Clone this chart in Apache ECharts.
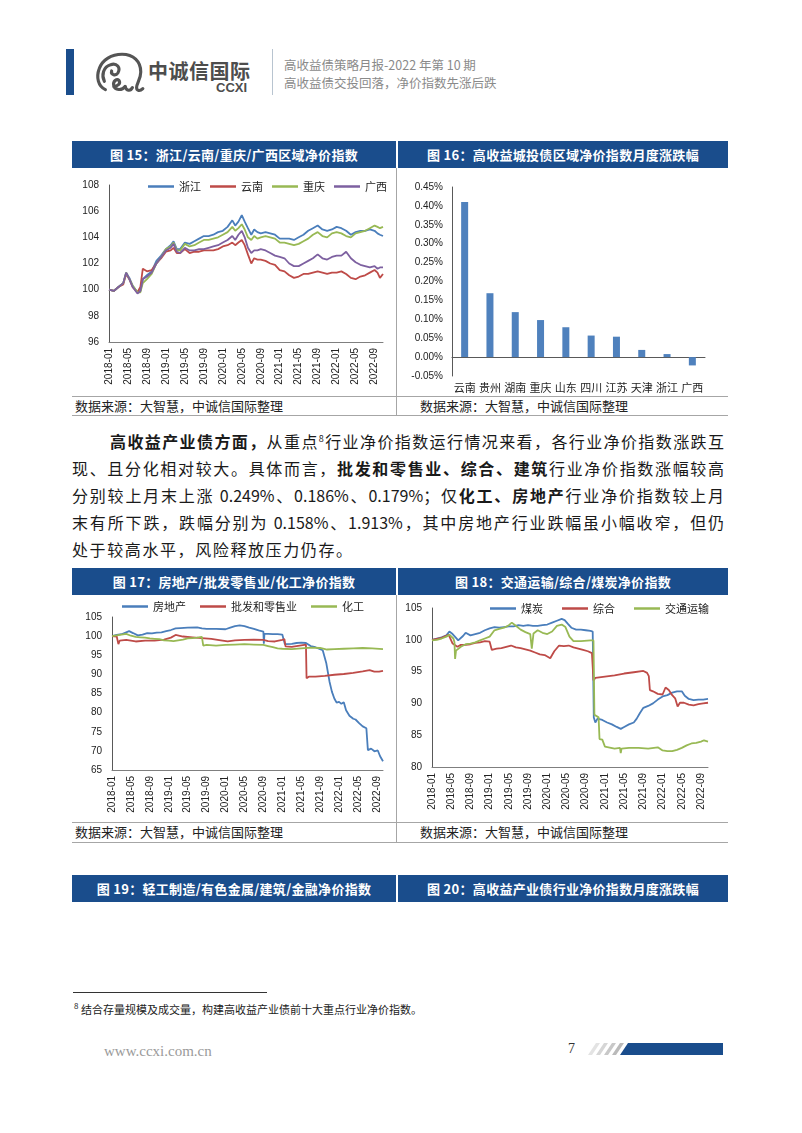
<!DOCTYPE html>
<html><head><meta charset="utf-8">
<script src="https://cdn.jsdelivr.net/npm/echarts@6/dist/echarts.min.js"></script>
<style>
html,body{margin:0;padding:0;background:#fff;}
body{width:802px;height:1133px;position:relative;overflow:hidden;font-family:'Noto Sans CJK SC',sans-serif;color:#1a1a1a;}
.abs{position:absolute;}
.hbar{position:absolute;background:#1a4d8c;color:#fff;font-weight:bold;font-size:13px;height:27px;line-height:27px;text-align:center;letter-spacing:0.3px;}
.src{position:absolute;font-size:13px;color:#222;line-height:18px;}
.hl{position:absolute;background:#a6a6a6;height:1px;left:72px;width:656px;}
.vl{position:absolute;background:#a6a6a6;width:1px;left:396px;}
.para{position:absolute;left:72px;width:652px;font-size:16px;line-height:27px;height:27px;text-align:justify;text-align-last:justify;color:#1a1a1a;}
.para b{font-weight:700;}
.chart{position:absolute;}
</style></head>
<body>
<!-- page header -->
<div class="abs" style="left:66px;top:49px;width:8px;height:46px;background:#1a4d8c"></div>
<svg class="abs" style="left:95px;top:52px" width="52" height="42" viewBox="0 0 50 40">
  <g fill="none" stroke="#555" stroke-width="3" stroke-linecap="round">
    <path d="M10 36 C3 33 1 24 4 16 C7 7 16 2 26 2 C37 2 44 9 44 19 C44 26 40 30 40 34 C40 37 43 38 46 35"/>
    <path d="M9 28 C6 22 8 14 15 12 C21 10 25 15 22 20 C20 23 15 22 16 18"/>
    <path d="M18 33 C22 33 25 30 23 27 C21 25 17 28 18 32 C19 37 26 37 29 33"/>
    <path d="M29 33 C30 37 34 38 36 34"/>
  </g>
</svg>
<div class="abs" style="left:148px;top:58px;font-size:20px;font-weight:bold;color:#4d4d4d;line-height:26px;letter-spacing:0.5px">中诚信国际</div>
<div class="abs" style="left:216px;top:80px;font-size:13px;font-weight:bold;color:#4d4d4d;line-height:16px;font-family:'Liberation Sans',sans-serif">CCXI</div>
<div class="abs" style="left:272px;top:49px;width:1px;height:46px;background:#b8c4d0"></div>
<div class="abs" style="left:284px;top:56px;font-size:12.5px;color:#8a8a8a;line-height:18px">高收益债策略月报-2022 年第 10 期</div>
<div class="abs" style="left:284px;top:74px;font-size:12.5px;color:#8a8a8a;line-height:18px">高收益债交投回落，净价指数先涨后跌</div>

<!-- figure 15/16 -->
<div class="hbar" style="left:72px;top:141px;width:324px">图 15：浙江/云南/重庆/广西区域净价指数</div>
<div class="hbar" style="left:398px;top:141px;width:330px">图 16：高收益城投债区域净价指数月度涨跌幅</div>
<div class="vl" style="top:168px;height:247px"></div>
<div class="hl" style="top:396px"></div>
<div class="hl" style="top:415px"></div>
<div id="c15" class="chart" style="left:72px;top:168px;width:324px;height:227px"></div>
<div id="c16" class="chart" style="left:397px;top:168px;width:331px;height:227px"></div>
<div class="src" style="left:75px;top:397px">数据来源：大智慧，中诚信国际整理</div>
<div class="src" style="left:420px;top:397px">数据来源：大智慧，中诚信国际整理</div>

<!-- paragraph -->
<div class="para" style="top:428px;left:110px;width:614px"><b>高收益产业债方面，</b>从重点<sup style="font-size:9px;line-height:0">8</sup>行业净价指数运行情况来看，各行业净价指数涨跌互</div>
<div class="para" style="top:455px">现、且分化相对较大。具体而言，<b>批发和零售业、综合、建筑</b>行业净价指数涨幅较高</div>
<div class="para" style="top:482px">分别较上月末上涨 0.249%、0.186%、0.179%；仅<b>化工、房地产</b>行业净价指数较上月</div>
<div class="para" style="top:509px">末有所下跌，跌幅分别为 0.158%、1.913%，其中房地产行业跌幅虽小幅收窄，但仍</div>
<div class="para" style="top:536px;text-align:left;text-align-last:left;letter-spacing:1.6px">处于较高水平，风险释放压力仍存。</div>

<!-- figure 17/18 -->
<div class="hbar" style="left:72px;top:568px;width:324px">图 17：房地产/批发零售业/化工净价指数</div>
<div class="hbar" style="left:398px;top:568px;width:330px">图 18：交通运输/综合/煤炭净价指数</div>
<div class="vl" style="top:595px;height:247px"></div>
<div class="hl" style="top:822px"></div>
<div class="hl" style="top:842px"></div>
<div id="c17" class="chart" style="left:72px;top:595px;width:324px;height:227px"></div>
<div id="c18" class="chart" style="left:397px;top:595px;width:331px;height:227px"></div>
<div class="src" style="left:75px;top:823px">数据来源：大智慧，中诚信国际整理</div>
<div class="src" style="left:420px;top:823px">数据来源：大智慧，中诚信国际整理</div>

<!-- figure 19/20 headers -->
<div class="hbar" style="left:72px;top:875px;width:324px">图 19：轻工制造/有色金属/建筑/金融净价指数</div>
<div class="hbar" style="left:398px;top:875px;width:330px">图 20：高收益产业债行业净价指数月度涨跌幅</div>

<!-- footnote & footer -->
<div class="abs" style="left:73px;top:992px;width:194px;height:1px;background:#333"></div>
<div class="abs" style="left:74px;top:1001px;font-size:11px;line-height:16px;color:#222"><sup style="font-size:8px;line-height:0">8</sup> 结合存量规模及成交量，构建高收益产业债前十大重点行业净价指数。</div>
<div class="abs" style="left:104px;top:1041px;font-size:15px;line-height:20px;color:#9a9a9a;font-family:'Liberation Serif',serif">www.ccxi.com.cn</div>
<div class="abs" style="left:568px;top:1040px;font-size:14px;line-height:18px;color:#333;font-family:'Liberation Serif',serif">7</div>
<svg class="abs" style="left:585px;top:1042px" width="140" height="14">
  <polygon points="3,13 11,1 15,1 7,13" fill="#e3e3e3"/>
  <polygon points="11,13 19,1 23,1 15,13" fill="#d6d6d6"/>
  <polygon points="19,13 27,1 31,1 23,13" fill="#c8c8c8"/>
  <polygon points="27,13 35,1 39,1 31,13" fill="#bababa"/>
  <polygon points="35,13 43,1 138,1 138,13" fill="#1a4d8c"/>
</svg>

<script>
// ---------- Data ----------
// Figure 15: regional net price index (dates shared by four series)
const dates15 = ['2018-01-01','2018-02-01','2018-03-01','2018-04-01','2018-04-20','2018-05-10','2018-06-01','2018-07-01','2018-07-20','2018-08-05',
 '2018-09-01','2018-10-01','2018-11-01','2018-12-01','2019-01-01','2019-02-01','2019-02-20','2019-03-10','2019-04-01','2019-05-01',
 '2019-06-01','2019-07-01','2019-08-01','2019-09-01','2019-10-01','2019-11-01','2019-12-01','2020-01-01','2020-02-01','2020-03-01',
 '2020-03-20','2020-04-10','2020-05-01','2020-05-20','2020-06-10','2020-07-01','2020-07-20','2020-08-10','2020-09-01','2020-10-01',
 '2020-11-01','2020-12-01','2021-01-01','2021-02-01','2021-03-01','2021-04-01','2021-05-01','2021-06-01','2021-07-01','2021-08-01',
 '2021-09-01','2021-10-01','2021-11-01','2021-12-01','2022-01-01','2022-02-01','2022-03-01','2022-04-01','2022-05-01','2022-06-01',
 '2022-07-01','2022-08-01','2022-09-01','2022-09-20','2022-10-05','2022-10-25'];
const zhejiang = [100.0,99.9,100.2,100.5,101.3,100.9,100.3,99.8,99.9,100.8,
 101.1,101.4,102.2,102.6,103.1,103.4,103.7,103.1,103.1,103.6,
 103.5,103.7,103.9,104.1,104.1,104.2,104.4,104.5,104.8,105.3,
 104.9,105.2,105.7,105.2,104.7,104.2,104.6,104.4,104.3,104.4,
 104.3,104.2,103.9,103.9,103.9,103.8,104.0,104.2,104.5,104.7,
 104.9,104.6,104.5,104.6,104.8,104.7,104.5,104.2,104.4,104.5,
 104.5,104.6,104.5,104.3,104.2,104.1];
const yunnan = [100.0,99.9,100.2,100.4,101.2,100.8,100.2,99.8,100.2,101.6,
 101.4,101.5,102.0,102.4,102.9,103.0,103.2,102.8,102.8,103.1,
 102.8,102.9,102.9,103.0,103.0,103.0,103.1,103.3,103.4,103.6,
 103.4,103.6,103.8,103.4,102.7,102.0,102.4,102.3,102.3,102.2,
 102.0,101.9,101.5,101.4,101.1,100.9,101.0,101.2,101.2,101.3,
 101.4,101.3,101.2,101.3,101.3,101.4,101.2,100.9,100.8,101.0,
 101.1,101.3,101.5,101.3,100.9,101.2];
const chongqing = [100.0,99.9,100.2,100.5,101.3,100.8,100.3,99.8,99.8,100.5,
 100.8,101.2,102.0,102.5,103.1,103.3,103.6,103.0,103.0,103.5,
 103.3,103.4,103.6,103.8,103.8,103.9,104.0,104.2,104.4,104.8,
 104.5,104.7,105.0,104.6,104.0,103.8,104.1,103.9,104.0,104.1,
 104.0,103.9,103.6,103.6,103.5,103.4,103.5,103.7,103.9,104.2,
 104.4,104.1,104.0,104.3,104.4,104.3,104.1,104.0,104.3,104.4,
 104.5,104.7,104.9,104.8,104.7,104.8];
const guangxi = [100.0,99.9,100.2,100.5,101.3,100.8,100.2,99.7,99.9,100.8,
 101.0,101.3,102.0,102.5,103.0,103.2,103.5,102.9,102.8,103.2,
 103.0,103.0,103.1,103.1,103.2,103.3,103.4,103.6,103.8,104.1,
 103.8,104.2,104.5,104.0,103.2,102.8,103.0,103.0,103.1,103.0,
 102.8,102.6,102.5,102.4,102.0,101.8,101.8,102.0,102.2,102.4,
 102.7,102.4,102.3,102.5,102.6,102.6,102.9,102.4,102.1,101.9,
 101.8,101.7,101.8,101.6,101.7,101.7];
const names15 = ['浙江','云南','重庆','广西'];
const yTicks15 = {min:96, max:108, step:2};

// Figure 16: monthly change (%)
const regions16 = ['云南','贵州','湖南','重庆','山东','四川','江苏','天津','浙江','广西'];
const change16 = [0.410,0.169,0.119,0.098,0.079,0.057,0.054,0.019,0.008,-0.022];
const yTicks16 = {min:-0.05, max:0.45, step:0.05};

// Figure 17: [date, index]
const realEstate = [['2018-01-01',100.0],['2018-02-01',100.3],['2018-03-01',100.5],['2018-04-01',101.0],['2018-04-20',101.3],['2018-05-15',100.8],['2018-06-15',100.2],['2018-07-15',100.4],['2018-08-15',100.8],['2018-09-15',100.7],['2018-10-15',100.9],['2018-11-15',101.0],['2018-12-15',101.3],['2019-01-15',101.6],['2019-02-15',102.0],['2019-03-15',102.1],['2019-05-01',102.2],['2019-07-01',102.3],['2019-08-01',102.0],['2019-09-01',101.9],['2019-11-01',101.9],['2020-01-01',101.8],['2020-02-01',102.2],['2020-03-01',102.6],['2020-04-01',102.8],['2020-05-01',102.6],['2020-06-01',102.2],['2020-07-01',101.9],['2020-08-01',101.5],['2020-09-01',101.2],['2020-09-04',98.0],['2020-09-08',100.6],['2020-10-01',100.6],['2020-11-01',100.5],['2020-12-01',100.5],['2021-01-01',100.4],['2021-01-12',100.3],['2021-01-18',97.9],['2021-03-01',98.0],['2021-04-01',98.2],['2021-05-01',98.3],['2021-06-01',98.2],['2021-07-01',97.4],['2021-08-01',97.1],['2021-09-01',96.6],['2021-09-18',96.3],['2021-10-10',93.0],['2021-11-01',88.0],['2021-11-16',85.5],['2021-12-01',83.7],['2021-12-16',82.6],['2022-01-01',82.8],['2022-01-16',82.3],['2022-02-01',82.7],['2022-02-16',80.6],['2022-03-07',79.2],['2022-04-01',78.4],['2022-04-16',78.2],['2022-05-10',77.2],['2022-06-01',76.4],['2022-06-25',75.9],['2022-07-04',70.2],['2022-07-25',70.6],['2022-08-16',69.9],['2022-09-07',70.1],['2022-09-22',68.6],['2022-10-10',67.3]];
const wholesaleRetail = [['2018-01-01',100.0],['2018-02-01',99.9],['2018-02-12',97.9],['2018-02-20',98.8],['2018-04-01',99.0],['2018-06-01',98.6],['2018-08-01',98.8],['2018-10-01',98.8],['2018-12-01',99.1],['2019-01-15',99.6],['2019-02-15',100.3],['2019-04-01',99.9],['2019-06-01',99.7],['2019-08-01',99.5],['2019-10-01',99.3],['2019-12-01',98.9],['2020-01-15',98.6],['2020-03-01',98.9],['2020-05-01',99.0],['2020-07-01',99.1],['2020-09-01',99.0],['2020-10-01',98.7],['2020-11-15',98.6],['2021-01-01',99.0],['2021-01-15',99.2],['2021-01-22',97.3],['2021-03-01',97.2],['2021-04-01',97.4],['2021-05-01',97.6],['2021-06-01',97.8],['2021-06-05',89.0],['2021-06-20',89.4],['2021-08-01',89.4],['2021-10-01',89.6],['2021-12-01',89.9],['2022-02-01',90.1],['2022-04-01',90.4],['2022-06-01',90.8],['2022-07-15',91.1],['2022-08-15',90.7],['2022-09-15',90.7],['2022-10-10',90.9]];
const chemical = [['2018-01-01',100.0],['2018-02-01',100.2],['2018-03-01',100.4],['2018-04-01',100.6],['2018-05-01',100.1],['2018-06-01',99.8],['2018-07-01',99.7],['2018-08-01',99.6],['2018-09-01',99.4],['2018-10-01',99.3],['2018-11-01',99.2],['2018-12-01',98.9],['2019-01-01',98.8],['2019-02-01',98.7],['2019-03-01',98.9],['2019-04-01',99.1],['2019-05-01',99.4],['2019-06-01',99.5],['2019-07-01',99.6],['2019-08-01',99.8],['2019-08-06',99.9],['2019-08-10',97.5],['2019-09-01',97.7],['2019-11-01',97.5],['2020-01-01',97.7],['2020-03-01',97.8],['2020-05-01',97.9],['2020-07-01',97.8],['2020-09-01',97.7],['2020-10-01',97.4],['2020-11-01',97.1],['2020-12-01',96.8],['2021-01-01',96.7],['2021-03-01',96.6],['2021-05-01',96.8],['2021-07-01',97.0],['2021-09-01',96.9],['2021-10-15',96.5],['2021-12-01',96.6],['2022-02-01',96.7],['2022-04-01',96.8],['2022-06-01',96.9],['2022-08-01',96.8],['2022-10-10',96.6]];
const names17 = ['房地产','批发和零售业','化工'];
const yTicks17 = {min:65, max:105, step:5};

// Figure 18: [date, index]
const coal = [['2018-01-01',100.0],['2018-02-01',100.2],['2018-03-01',100.4],['2018-04-01',100.7],['2018-04-20',101.3],['2018-05-10',100.9],['2018-06-01',100.3],['2018-06-15',99.9],['2018-07-15',100.6],['2018-08-01',101.1],['2018-09-01',100.7],['2018-10-01',100.9],['2018-11-01',101.1],['2018-12-01',101.5],['2019-01-01',101.8],['2019-02-01',102.0],['2019-03-01',101.9],['2019-04-01',102.0],['2019-05-01',102.1],['2019-06-01',102.1],['2019-07-01',102.3],['2019-08-01',102.2],['2019-09-01',102.3],['2019-10-01',102.2],['2019-11-01',102.2],['2019-12-01',102.3],['2020-01-01',102.4],['2020-02-01',102.7],['2020-03-01',103.0],['2020-04-01',103.3],['2020-04-20',103.1],['2020-05-10',102.5],['2020-06-01',101.9],['2020-07-01',101.6],['2020-08-01',101.6],['2020-09-01',101.5],['2020-10-01',101.4],['2020-10-15',101.3],['2020-10-22',87.8],['2020-11-01',87.0],['2020-11-15',87.6],['2020-12-15',87.4],['2021-01-15',87.0],['2021-02-15',86.7],['2021-03-15',86.3],['2021-04-10',86.0],['2021-05-01',86.3],['2021-06-01',86.7],['2021-07-01',87.0],['2021-07-20',87.6],['2021-08-10',88.5],['2021-09-01',89.3],['2021-10-01',89.6],['2021-11-01',90.0],['2021-12-01',90.6],['2022-01-01',91.1],['2022-02-01',91.3],['2022-03-01',91.7],['2022-04-01',91.9],['2022-05-01',91.9],['2022-05-20',91.2],['2022-06-15',90.7],['2022-07-15',90.5],['2022-08-15',90.6],['2022-09-15',90.6],['2022-10-15',90.7]];
const composite = [['2018-01-01',100.0],['2018-03-01',100.3],['2018-04-15',100.8],['2018-05-10',99.4],['2018-06-10',98.9],['2018-07-01',99.2],['2018-08-01',99.2],['2018-09-01',99.3],['2018-10-01',99.5],['2018-11-01',99.6],['2018-12-01',99.8],['2019-01-01',99.7],['2019-01-15',98.4],['2019-02-15',98.6],['2019-03-15',98.7],['2019-04-15',98.9],['2019-05-15',99.1],['2019-06-15',98.8],['2019-07-15',98.7],['2019-08-15',98.5],['2019-09-15',98.3],['2019-10-15',98.0],['2019-11-15',97.7],['2019-12-15',97.6],['2020-01-20',97.1],['2020-02-15',98.2],['2020-03-15',99.1],['2020-04-15',99.0],['2020-05-15',99.1],['2020-06-15',98.8],['2020-07-15',98.6],['2020-08-15',98.4],['2020-09-15',98.2],['2020-10-10',97.9],['2020-10-20',93.6],['2020-11-01',94.0],['2021-01-01',94.2],['2021-03-01',94.4],['2021-05-01',94.7],['2021-07-01',94.9],['2021-09-01',95.1],['2021-09-25',94.8],['2021-10-05',94.3],['2021-10-12',92.1],['2021-11-01',91.9],['2021-12-01',91.5],['2022-01-01',91.4],['2022-01-20',92.5],['2022-02-10',92.1],['2022-03-01',91.3],['2022-03-20',90.8],['2022-04-05',89.5],['2022-04-20',90.1],['2022-05-15',90.1],['2022-06-15',89.8],['2022-07-15',89.7],['2022-08-15',89.9],['2022-09-15',90.0],['2022-10-15',90.1]];
const transport = [['2018-01-01',99.9],['2018-02-01',100.0],['2018-03-01',100.2],['2018-04-01',100.5],['2018-04-20',100.8],['2018-05-15',100.2],['2018-05-22',99.6],['2018-05-26',97.0],['2018-06-01',98.3],['2018-07-01',98.9],['2018-08-01',99.3],['2018-09-01',99.4],['2018-10-01',99.6],['2018-11-01',99.9],['2018-12-01',100.2],['2019-01-01',100.5],['2019-02-01',101.5],['2019-03-01',101.7],['2019-04-01',101.9],['2019-05-01',102.3],['2019-05-20',102.7],['2019-06-15',102.2],['2019-07-15',101.6],['2019-08-15',101.2],['2019-09-15',100.9],['2019-09-25',98.6],['2019-10-05',101.0],['2019-11-01',101.5],['2019-12-01',101.1],['2020-01-01',100.9],['2020-02-01',101.3],['2020-03-01',102.2],['2020-04-01',102.4],['2020-04-25',102.0],['2020-05-20',100.5],['2020-06-15',99.8],['2020-08-01',99.8],['2020-10-01',99.9],['2020-10-20',99.9],['2020-10-26',88.2],['2020-11-22',87.8],['2020-11-28',84.4],['2020-12-15',84.3],['2021-01-01',83.2],['2021-01-10',82.9],['2021-03-01',82.9],['2021-04-05',83.0],['2021-04-10',82.2],['2021-04-15',82.9],['2021-06-01',83.0],['2021-08-01',83.0],['2021-10-01',82.9],['2021-12-01',83.1],['2022-01-01',82.6],['2022-02-01',82.5],['2022-03-01',82.5],['2022-04-01',82.7],['2022-05-01',83.0],['2022-06-01',83.4],['2022-07-01',83.7],['2022-08-01',83.8],['2022-09-01',84.0],['2022-09-20',84.2],['2022-10-15',84.0]];
const names18 = ['煤炭','综合','交通运输'];
const yTicks18 = {min:80, max:105, step:5};

// ---------- Helpers ----------
const NUMFONT = "'Liberation Sans','Noto Sans CJK SC',sans-serif";
const CJKFONT = "'Noto Sans CJK SC',sans-serif";
const BLUE='#4A7EBB', RED='#BE4B48', GREEN='#98B954', PURPLE='#7D60A0';
function monthIndex(s){const p=s.split('-').map(Number);return (p[0]-2018)*12+(p[1]-1)+(p[2]-1)/31;}
function monthLabel(v){const r=Math.round(v);if(Math.abs(v-r)>1e-6||r%4!==0)return '';const y=2018+Math.floor(r/12),m=r%12+1;return y+'-'+(m<10?'0'+m:m);}
function toPairs(dates, vals){return dates.map((d,i)=>[monthIndex(d),vals[i]]);}
function fromPairs(arr){return arr.map(p=>[monthIndex(p[0]),p[1]]);}

function lineOption(cfg){
  return {
    animation:false,
    textStyle:{fontFamily:NUMFONT},
    color:cfg.colors,
    legend:{left:cfg.legLeft,top:cfg.legTop,padding:0,icon:'rect',itemWidth:26,itemHeight:2.5,itemGap:cfg.legGap,
      textStyle:{fontSize:11,color:'#222',fontFamily:CJKFONT},data:cfg.names},
    grid:cfg.grid,
    xAxis:{type:'value',min:0,max:'dataMax',interval:4,splitLine:{show:false},axisTick:{show:false},
      axisLine:{lineStyle:{color:'#7f7f7f'}},
      axisLabel:{rotate:90,fontSize:10,color:'#222',margin:6,formatter:monthLabel,fontFamily:NUMFONT}},
    yAxis:{type:'value',min:cfg.y.min,max:cfg.y.max,interval:cfg.y.step,splitLine:{show:false},axisTick:{show:false},
      axisLine:{show:true,lineStyle:{color:'#595959'}},
      axisLabel:{fontSize:10,color:'#222',margin:10,fontFamily:NUMFONT}},
    series:cfg.series.map((d,i)=>({name:cfg.names[i],type:'line',data:d,showSymbol:false,symbol:'none',
      lineStyle:{width:1.8},emphasis:{disabled:true}}))
  };
}

// Figure 15
echarts.init(document.getElementById('c15')).setOption(lineOption({
  names:names15, colors:[BLUE,RED,GREEN,PURPLE], legLeft:76, legTop:13, legGap:9,
  grid:{left:37,right:13,top:17,bottom:53}, y:yTicks15,
  series:[toPairs(dates15,zhejiang),toPairs(dates15,yunnan),toPairs(dates15,chongqing),toPairs(dates15,guangxi)]
}));

// Figure 16
echarts.init(document.getElementById('c16')).setOption({
  animation:false,
  textStyle:{fontFamily:NUMFONT},
  grid:{left:55,right:23,top:19,bottom:19},
  xAxis:{type:'category',data:regions16,axisTick:{show:false},
    axisLine:{onZero:true,lineStyle:{color:'#595959'}},
    axisLabel:{fontSize:11,color:'#222',margin:6,interval:0,fontFamily:CJKFONT}},
  yAxis:{type:'value',min:yTicks16.min,max:yTicks16.max,interval:yTicks16.step,splitLine:{show:false},axisTick:{show:false},
    axisLine:{show:true,lineStyle:{color:'#595959'}},
    axisLabel:{fontSize:10,color:'#222',margin:9,formatter:v=>v.toFixed(2)+'%'}},
  series:[{type:'bar',data:change16,barWidth:7,itemStyle:{color:'#4F81BD'},emphasis:{disabled:true}}]
});

// Figure 17
echarts.init(document.getElementById('c17')).setOption(lineOption({
  names:names17, colors:[BLUE,RED,GREEN], legLeft:50, legTop:6, legGap:14,
  grid:{left:40,right:13,top:22,bottom:52}, y:yTicks17,
  series:[fromPairs(realEstate),fromPairs(wholesaleRetail),fromPairs(chemical)]
}));

// Figure 18
echarts.init(document.getElementById('c18')).setOption(lineOption({
  names:names18, colors:[BLUE,RED,GREEN], legLeft:93, legTop:8, legGap:19,
  grid:{left:35,right:20,top:13,bottom:55}, y:yTicks18,
  series:[fromPairs(coal),fromPairs(composite),fromPairs(transport)]
}));
</script>
</body></html>
